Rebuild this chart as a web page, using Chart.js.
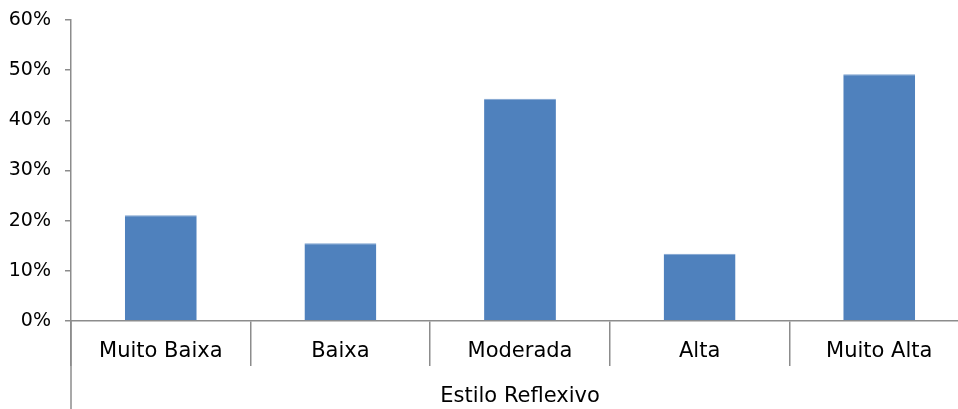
<!DOCTYPE html>
<html>
<head>
<meta charset="utf-8">
<script src="https://cdn.jsdelivr.net/npm/chart.js@4"></script>
<style>
html, body { margin: 0; padding: 0; background: #fff; overflow: hidden; width: 958px; height: 409px; }
#wrap { position: absolute; left: 0; top: 0; width: 969px; height: 409px; }
</style>
</head>
<body>
<div id="wrap"><canvas id="c"></canvas></div>
<script>
const categories = ["Muito Baixa", "Baixa", "Moderada", "Alta", "Muito Alta"];
const values = [21.1, 15.5, 44.3, 13.4, 49.2];
const yTicks = [0, 10, 20, 30, 40, 50, 60];
const groupLabel = "Estilo Reflexivo";

const axisColor = "#8c8c8c";
const fontFamily = "'DejaVu Sans', sans-serif";

const axisExtension = {
  id: 'axisExtension',
  afterDraw(chart) {
    const {ctx, chartArea} = chart;
    ctx.save();
    ctx.strokeStyle = axisColor;
    ctx.lineWidth = 1.5;
    ctx.beginPath();
    ctx.moveTo(chartArea.left, chartArea.bottom);
    ctx.lineTo(chartArea.left, chart.height);
    ctx.stroke();
    ctx.restore();
  }
};

new Chart(document.getElementById('c'), {
  type: 'bar',
  data: {
    labels: categories,
    datasets: [{
      data: values,
      backgroundColor: '#4f81bd',
      borderColor: '#7ea3d0',
      borderWidth: {top: 1, left: 0, right: 0, bottom: 0},
      borderSkipped: 'bottom',
      barPercentage: 0.4,
      categoryPercentage: 1.0
    }]
  },
  options: {
    responsive: true,
    maintainAspectRatio: false,
    animation: false,
    events: [],
    layout: { padding: { top: 20, left: 0, right: 0, bottom: 0 } },
    plugins: { legend: { display: false }, tooltip: { enabled: false } },
    scales: {
      x: {
        type: 'category',
        offset: true,
        afterFit(scale) { scale.height = 88; },
        border: { display: true, color: axisColor, width: 1.5 },
        grid: {
          display: true,
          offset: true,
          drawOnChartArea: false,
          drawTicks: true,
          tickLength: 45,
          color: axisColor,
          lineWidth: 1.5
        },
        ticks: {
          color: '#000',
          font: { family: fontFamily, size: 21 },
          padding: -27,
          maxRotation: 0,
          autoSkip: false
        },
        title: {
          display: true,
          text: groupLabel,
          color: '#000',
          font: { family: fontFamily, size: 21 },
          padding: { top: 0, bottom: 0 }
        }
      },
      y: {
        min: 0,
        max: 60,
        afterFit(scale) { scale.width = 71; },
        afterBuildTicks(scale) { scale.ticks = yTicks.map(v => ({ value: v })); },
        border: { display: true, color: axisColor, width: 1.5 },
        grid: {
          display: true,
          drawOnChartArea: false,
          drawTicks: true,
          tickLength: 6,
          color: axisColor,
          lineWidth: 1.5
        },
        ticks: {
          color: '#000',
          font: { family: fontFamily, size: 19, lineHeight: 0.5 },
          padding: 14,
          callback: v => v + '%'
        }
      }
    }
  },
  plugins: [axisExtension]
});
</script>
</body>
</html>
